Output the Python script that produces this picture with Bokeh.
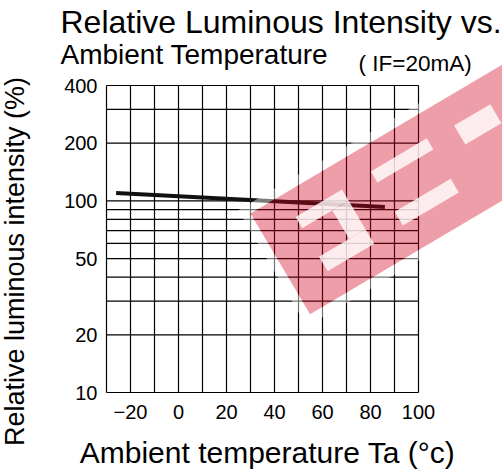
import math
from bokeh.plotting import figure
from bokeh.models import (FixedTicker, Label, PolyAnnotation, Range1d, LinearAxis,
                          LogAxis, LogScale, CustomJSTickFormatter)
from bokeh.embed import file_html
from bokeh.resources import INLINE

# ---- data ----
temp_c = [-26, 86]                 # ambient temperature (°C)
rel_intensity = [110, 93]          # relative luminous intensity (%)
x_tick_labels = [-20, 0, 20, 40, 60, 80, 100]
y_tick_labels = [10, 20, 50, 100, 200, 400]
x_grid_ticks = [-30, -20, -10, 0, 10, 20, 30, 40, 50, 60, 70, 80, 90, 100]
y_grid_ticks = [10, 20, 30, 40, 50, 60, 70, 80, 90, 100, 200, 300, 400]
X_MIN, X_MAX = -30, 100
Y_MIN, Y_MAX = 10, 400

# ---- layout (pixels) ----
W, H = 502, 474
GX0, GX1, GY0, GY1 = 106, 418, 85, 392   # grid box on canvas
px_per_x = (GX1 - GX0) / (X_MAX - X_MIN)
px_per_dec = (GY1 - GY0) / math.log10(Y_MAX / Y_MIN)
x_start = X_MIN - GX0 / px_per_x
x_end = X_MAX + (W - GX1) / px_per_x
y_start = Y_MIN * 10 ** (-(H - GY1) / px_per_dec)
y_end = Y_MIN * 10 ** (GY1 / px_per_dec)

FONT = "Liberation Sans"

p = figure(width=W, height=H, x_axis_type=None, y_axis_type=None,
           x_range=Range1d(x_start, x_end), y_range=Range1d(y_start, y_end),
           output_backend="svg", toolbar_location=None,
           min_border=0, min_border_left=0, min_border_right=0,
           min_border_top=0, min_border_bottom=0)
p.y_scale = LogScale()
p.background_fill_color = "white"
p.border_fill_color = "white"
p.outline_line_color = None
p.xgrid.visible = False
p.ygrid.visible = False

# grid box (drawn through the data scales)
p.segment(x0=x_grid_ticks, y0=[Y_MIN] * len(x_grid_ticks),
          x1=x_grid_ticks, y1=[Y_MAX] * len(x_grid_ticks),
          line_color="black", line_width=1.2)
p.segment(x0=[X_MIN] * len(y_grid_ticks), y0=y_grid_ticks,
          x1=[X_MAX] * len(y_grid_ticks), y1=y_grid_ticks,
          line_color="black", line_width=1.2)

# axes fixed at the grid box edges
xax = LinearAxis(fixed_location=Y_MIN, ticker=FixedTicker(ticks=x_tick_labels))
yax = LogAxis(fixed_location=X_MIN, ticker=FixedTicker(ticks=y_tick_labels),
              formatter=CustomJSTickFormatter(code="return String(Math.round(tick));"))
for ax in (xax, yax):
    ax.axis_line_color = None
    ax.major_tick_line_color = None
    ax.minor_tick_line_color = None
    ax.major_tick_in = 0
    ax.major_tick_out = 0
    ax.major_label_text_font = FONT
    ax.major_label_text_font_size = "20px"
    ax.major_label_text_color = "black"
yax.major_label_standoff = 9
xax.major_label_standoff = 12
p.add_layout(xax, "below")
p.add_layout(yax, "left")

# curve
p.line(temp_c, rel_intensity, line_color="#111111", line_width=4)

# ---- watermark (decorative, canvas pixels) ----
AX, AY = 250.0, 213.0
cu, su = math.cos(math.radians(30.6)), math.sin(math.radians(30.6))

def to_canvas(pts):
    xs, ys = [], []
    for u, v in pts:
        xs.append(AX + u * cu + v * su)
        ys.append(AY - u * su + v * cu)
    return xs, ys

def rect(u0, u1, v0, v1):
    return [(u0, v0), (u1, v0), (u1, v1), (u0, v1)]

def poly(pts, color, alpha):
    cx, cy = to_canvas(pts)
    p.add_layout(PolyAnnotation(xs=cx, ys=cy, xs_units="canvas", ys_units="canvas",
                                fill_color=color, fill_alpha=alpha, line_color=None))

# soft white halo around the band
for r in [rect(-9, 420, -9, 0), rect(-9, 420, 117, 126), rect(-9, 0, 0, 117)]:
    poly(r, "white", 0.45)
# band
poly(rect(0, 420, 0, 117), "#D2001A", 0.38)
# letter cut-outs
for r in [rect(37, 91, 26, 39), rect(37, 91, 72, 89), rect(72, 91, 39, 72),
          rect(125, 190, 25, 38), rect(125, 190, 72, 88), rect(220, 262, 28, 50)]:
    poly(r, "white", 0.8)

# ---- texts ----
def add_label(text, x, y, size, align="left", angle=0.0):
    p.add_layout(Label(text=text, x=x, y=y, x_units="canvas", y_units="canvas",
                       text_font=FONT, text_font_size=size, text_color="black",
                       text_align=align, text_baseline="alphabetic", angle=angle))

add_label("Relative Luminous Intensity vs.", 60, 21, "32px")
add_label("Ambient Temperature", 60, 54, "28px")
add_label("( IF=20mA)", 358, 63, "22.5px")
add_label("Relative luminous intensity (%)", 14, 261, "27px",
          align="center", angle=math.pi / 2)
add_label("Ambient temperature Ta (°c)", 267, 452, "30px", align="center")

open("out.html", "w").write(file_html(p, INLINE))
